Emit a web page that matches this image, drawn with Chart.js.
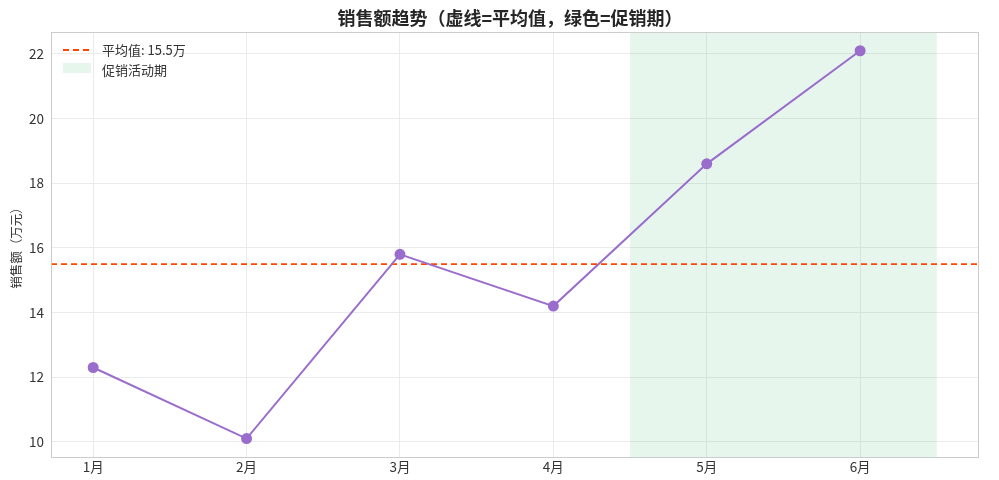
<!DOCTYPE html>
<html>
<head>
<meta charset="utf-8">
<script src="https://cdn.jsdelivr.net/npm/chart.js@4.4.0/dist/chart.umd.min.js"></script>
<style>
  html, body { margin: 0; padding: 0; background: #fff; }
  #wrap { width: 999px; height: 480px; }
</style>
</head>
<body>
<div id="wrap"><canvas id="salesChart" width="999" height="480"></canvas></div>
<script>
const months = ['1月', '2月', '3月', '4月', '5月', '6月'];
const sales = [12.3, 10.1, 15.8, 14.2, 18.6, 22.1];
const yTicks = [10, 12, 14, 16, 18, 20, 22];
const avgValue = 15.5;
const promoRange = [3.5, 5.5]; // 促销期 (index units)

const FONT = '"Noto Sans CJK SC", "Noto Sans", sans-serif';
const PROMO_FILL = 'rgba(46,180,100,0.12)';

// shading + frame + legend drawn with the chart's own scales
const extras = {
    id: 'extras',
    beforeDatasetsDraw(chart) {
        const { ctx, chartArea, scales } = chart;
        const x0 = scales.x.getPixelForValue(promoRange[0]);
        const x1 = scales.x.getPixelForValue(promoRange[1]);
        ctx.save();
        ctx.fillStyle = PROMO_FILL;
        ctx.fillRect(x0, chartArea.top, x1 - x0, chartArea.bottom - chartArea.top);
        ctx.restore();
    },
    afterDraw(chart) {
        const { ctx, chartArea } = chart;
        ctx.save();
        // frame
        ctx.strokeStyle = '#cccccc';
        ctx.lineWidth = 1;
        ctx.strokeRect(chartArea.left + 0.5, chartArea.top + 0.5,
            chartArea.right - chartArea.left - 1, chartArea.bottom - chartArea.top - 1);

        // title
        ctx.fillStyle = '#262626';
        ctx.font = 'bold 18px ' + FONT;
        ctx.textAlign = 'center';
        ctx.textBaseline = 'middle';
        ctx.fillText('销售额趋势（虚线=平均值，绿色=促销期）', 510, 18);

        // legend
        const lx = chartArea.left + 12;
        const ly = chartArea.top + 18;
        ctx.strokeStyle = '#ff4500';
        ctx.lineWidth = 2;
        ctx.setLineDash([6, 4]);
        ctx.beginPath();
        ctx.moveTo(lx, ly);
        ctx.lineTo(lx + 28, ly);
        ctx.stroke();
        ctx.setLineDash([]);
        ctx.fillStyle = PROMO_FILL;
        ctx.fillRect(lx, ly + 18 - 5, 28, 10);
        ctx.fillStyle = '#333333';
        ctx.font = '13px ' + FONT;
        ctx.textAlign = 'left';
        ctx.fillText('平均值: ' + avgValue + '万', lx + 39, ly);
        ctx.fillText('促销活动期', lx + 39, ly + 20);
        ctx.restore();
    }
};

const ctx = document.getElementById('salesChart').getContext('2d');
new Chart(ctx, {
    type: 'line',
    data: {
        datasets: [
            {
                label: '销售额',
                data: sales.map((v, i) => ({ x: i, y: v })),
                borderColor: '#9a6dcc',
                backgroundColor: '#9a6dcc',
                borderWidth: 2,
                pointRadius: 4.5,
                pointHoverRadius: 4.5,
                tension: 0
            },
            {
                label: '平均值',
                data: [{ x: -0.275, y: avgValue }, { x: 5.775, y: avgValue }],
                borderColor: '#ff4500',
                borderWidth: 1.8,
                borderDash: [6, 4],
                pointRadius: 0
            }
        ]
    },
    options: {
        responsive: false,
        animation: false,
        layout: { padding: { top: 32, right: 20, bottom: 0, left: 0 } },
        scales: {
            x: {
                type: 'linear',
                min: -0.275,
                max: 5.775,
                afterBuildTicks: scale => { scale.ticks = months.map((m, i) => ({ value: i })); },
                afterFit: scale => { scale.height = 22; },
                ticks: {
                    callback: v => months[v],
                    color: '#333333',
                    font: { family: FONT, size: 13.5 },
                    padding: 1
                },
                grid: { color: '#ebebeb', drawTicks: false },
                border: { display: false }
            },
            y: {
                min: 9.5,
                max: 22.68,
                afterBuildTicks: scale => { scale.ticks = yTicks.map(v => ({ value: v })); },
                afterFit: scale => { scale.width = 51; },
                ticks: {
                    color: '#333333',
                    font: { family: FONT, size: 13.5 },
                    padding: 7
                },
                title: {
                    display: true,
                    text: '销售额（万元）',
                    color: '#333333',
                    font: { family: FONT, size: 12.5 },
                    padding: { top: 9, bottom: 0 }
                },
                grid: { color: '#ebebeb', drawTicks: false },
                border: { display: false }
            }
        },
        plugins: {
            legend: { display: false },
            tooltip: { enabled: false }
        }
    },
    plugins: [extras]
});
</script>
</body>
</html>
